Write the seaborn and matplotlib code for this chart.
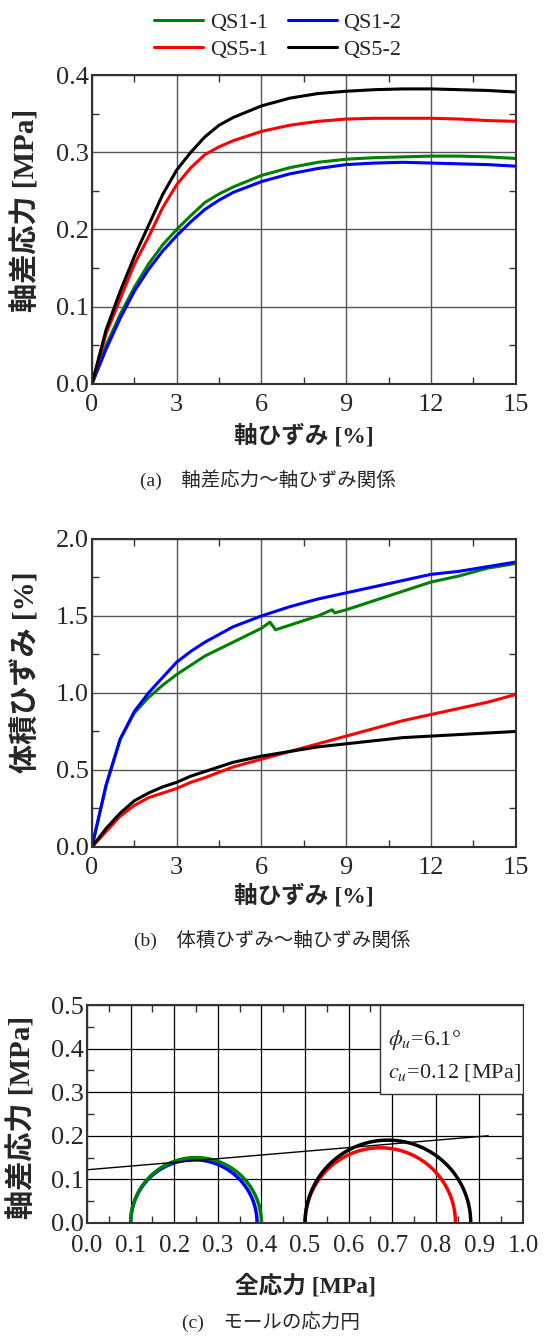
import numpy as np
import pandas as pd
import matplotlib
matplotlib.use('Agg')
import matplotlib.pyplot as plt
import seaborn as sns
from matplotlib.ticker import MultipleLocator, FormatStrFormatter

sns.set_theme(style='ticks')
plt.rcParams['font.family'] = ['Liberation Serif', 'Noto Sans CJK JP', 'DejaVu Sans']
plt.rcParams['mathtext.fontset'] = 'stix'

samples = ['QS1-1', 'QS1-2', 'QS5-1', 'QS5-2']
colors = {'QS1-1': '#008000', 'QS1-2': '#0000ff', 'QS5-1': '#ff0000', 'QS5-2': '#000000'}

# (a) deviator stress vs axial strain
strain_a = [0, 0.5, 1, 1.5, 2, 2.5, 3, 3.5, 4, 4.5, 5, 6, 7, 8, 9, 10, 11, 12, 13, 14, 15]
q_qs11 = [0, 0.05, 0.09, 0.125, 0.155, 0.18, 0.2, 0.218, 0.235, 0.246, 0.255, 0.27, 0.28, 0.287, 0.291, 0.293, 0.294, 0.295, 0.295, 0.294, 0.292]
q_qs12 = [0, 0.045, 0.085, 0.12, 0.148, 0.172, 0.192, 0.21, 0.226, 0.238, 0.248, 0.262, 0.272, 0.279, 0.284, 0.286, 0.287, 0.286, 0.285, 0.284, 0.282]
q_qs51 = [0, 0.065, 0.11, 0.155, 0.19, 0.228, 0.258, 0.28, 0.297, 0.307, 0.315, 0.327, 0.335, 0.34, 0.343, 0.344, 0.344, 0.344, 0.343, 0.341, 0.34]
q_qs52 = [0, 0.07, 0.12, 0.165, 0.205, 0.245, 0.277, 0.3, 0.32, 0.335, 0.345, 0.36, 0.37, 0.376, 0.379, 0.381, 0.382, 0.382, 0.381, 0.38, 0.378]

# (b) volumetric strain vs axial strain
strain_b1 = [0, 0.5, 1, 1.5, 2, 2.5, 3, 3.5, 4, 5, 6, 6.3, 6.5, 7, 8, 8.5, 8.6, 9, 10, 11, 12, 13, 14, 15]
ev_qs11 = [0, 0.4, 0.7, 0.87, 0.97, 1.05, 1.12, 1.18, 1.24, 1.33, 1.42, 1.46, 1.41, 1.44, 1.5, 1.54, 1.52, 1.54, 1.6, 1.66, 1.72, 1.76, 1.81, 1.84]
strain_b = [0, 0.5, 1, 1.5, 2, 2.5, 3, 3.5, 4, 5, 6, 7, 8, 9, 10, 11, 12, 13, 14, 15]
ev_qs12 = [0, 0.4, 0.7, 0.88, 1.0, 1.1, 1.2, 1.27, 1.33, 1.43, 1.5, 1.56, 1.61, 1.65, 1.69, 1.73, 1.77, 1.79, 1.82, 1.85]
ev_qs51 = [0, 0.1, 0.2, 0.27, 0.32, 0.35, 0.38, 0.42, 0.45, 0.52, 0.57, 0.62, 0.67, 0.72, 0.77, 0.82, 0.86, 0.9, 0.94, 0.99]
ev_qs52 = [0, 0.12, 0.22, 0.3, 0.35, 0.39, 0.42, 0.46, 0.49, 0.55, 0.59, 0.62, 0.65, 0.67, 0.69, 0.71, 0.72, 0.73, 0.74, 0.75]

# (c) Mohr circles: sigma3, sigma1
sigma3 = [0.1, 0.1, 0.5, 0.5]
sigma1 = [0.40, 0.39, 0.845, 0.88]
env_x = [0.0, 0.92]
env_y = [0.122, 0.20]

df_a = pd.concat([pd.DataFrame({'strain': strain_a, 'q': v, 'sample': s})
                  for s, v in zip(samples, [q_qs11, q_qs12, q_qs51, q_qs52])])
df_b = pd.concat([pd.DataFrame({'strain': x, 'ev': v, 'sample': s})
                  for s, x, v in zip(samples, [strain_b1, strain_b, strain_b, strain_b],
                                     [ev_qs11, ev_qs12, ev_qs51, ev_qs52])])

rows = []
th = np.linspace(0, np.pi, 200)
for s, s3, s1 in zip(samples, sigma3, sigma1):
    c, r = (s1 + s3) / 2, (s1 - s3) / 2
    rows.append(pd.DataFrame({'sigma': c + r * np.cos(th), 'tau': r * np.sin(th), 'sample': s}))
df_c = pd.concat(rows)

fig = plt.figure(figsize=(5.44, 13.37), dpi=100)
ax1 = fig.add_axes([0.169, 0.7128, 0.779, 0.2311])
ax2 = fig.add_axes([0.169, 0.3665, 0.779, 0.2304])
ax3 = fig.add_axes([0.160, 0.0853, 0.8015, 0.163])

tick_fs = 19
xlab_kw = dict(fontsize=17, fontweight='bold')
ylab_kw = dict(fontsize=21, fontweight='bold')

sns.lineplot(data=df_a, x='strain', y='q', hue='sample', palette=colors, ax=ax1,
             lw=2.2, sort=False, estimator=None, legend=True)
sns.lineplot(data=df_b, x='strain', y='ev', hue='sample', palette=colors, ax=ax2,
             lw=2.2, sort=False, estimator=None, legend=False)
# blue circle under the green one, as in the original
sns.lineplot(data=df_c, x='sigma', y='tau', hue='sample', palette=colors, ax=ax3,
             hue_order=['QS1-2', 'QS1-1', 'QS5-1', 'QS5-2'],
             lw=2.5, sort=False, estimator=None, legend=False)
ax3.plot(env_x, env_y, color='black', lw=1.0)

handles, labels = ax1.get_legend_handles_labels()
ax1.get_legend().remove()
hmap = dict(zip(labels, handles))
order = ['QS1-1', 'QS5-1', 'QS1-2', 'QS5-2']
fig.legend([hmap[k] for k in order], order, loc='upper center', bbox_to_anchor=(0.511, 1.006),
           ncol=2, frameon=False, fontsize=16, handlelength=2.2, columnspacing=0.9,
           handletextpad=0.3, labelspacing=0.3)

for ax in (ax1, ax2):
    ax.set_xlim(0, 15)
    ax.xaxis.set_major_locator(MultipleLocator(3))
    ax.xaxis.set_minor_locator(MultipleLocator(1.5))
    ax.grid(True, which='major', color='#555555', lw=1.0)
ax1.set_ylim(0, 0.4)
ax1.yaxis.set_major_locator(MultipleLocator(0.1))
ax1.yaxis.set_minor_locator(MultipleLocator(0.05))
ax1.yaxis.set_major_formatter(FormatStrFormatter('%.1f'))
ax2.set_ylim(0, 2.0)
ax2.yaxis.set_major_locator(MultipleLocator(0.5))
ax2.yaxis.set_minor_locator(MultipleLocator(0.25))
ax2.yaxis.set_major_formatter(FormatStrFormatter('%.1f'))

ax3.set_xlim(0, 1.0)
ax3.set_ylim(0, 0.5)
ax3.xaxis.set_major_locator(MultipleLocator(0.1))
ax3.xaxis.set_minor_locator(MultipleLocator(0.05))
ax3.yaxis.set_major_locator(MultipleLocator(0.1))
ax3.yaxis.set_minor_locator(MultipleLocator(0.05))
ax3.xaxis.set_major_formatter(FormatStrFormatter('%.1f'))
ax3.yaxis.set_major_formatter(FormatStrFormatter('%.1f'))
ax3.grid(True, which='major', color='black', lw=0.9)

for ax in (ax1, ax2, ax3):
    ax.tick_params(which='both', direction='in', top=True, right=True, labelsize=tick_fs,
                   color='#333333', pad=2)
    ax.tick_params(which='major', length=0)
    ax.tick_params(which='minor', length=5, width=1)
    ax.tick_params(axis='x', which='both', pad=7)
    for sp in ax.spines.values():
        sp.set_color('#333333')
        sp.set_linewidth(1.5)
    ax.set_axisbelow(True)
ax3.tick_params(axis='x', labelsize=18, pad=9)

ax1.set_xlabel('軸ひずみ [%]', labelpad=6, **xlab_kw)
ax1.set_ylabel('軸差応力 [MPa]', **ylab_kw)
ax2.set_xlabel('軸ひずみ [%]', labelpad=4, **xlab_kw)
ax2.set_ylabel('体積ひずみ [%]', **ylab_kw)
ax3.set_xlabel('全応力 [MPa]', labelpad=12, **xlab_kw)
ax3.set_ylabel('軸差応力 [MPa]', **ylab_kw)
ax1.yaxis.set_label_coords(-0.122, 0.563)
ax2.yaxis.set_label_coords(-0.122, 0.568)
ax3.yaxis.set_label_coords(-0.115, 0.486)

cap_fs = 14
fig.text(268 / 544, 1 - 480 / 1337, '(a)　軸差応力～軸ひずみ関係', ha='center', va='center', fontsize=cap_fs)
fig.text(272 / 544, 1 - 940 / 1337, '(b)　体積ひずみ～軸ひずみ関係', ha='center', va='center', fontsize=cap_fs)
fig.text(271 / 544, 1 - 1322 / 1337, '(c)　モールの応力円', ha='center', va='center', fontsize=cap_fs)

# parameter box in (c)
ax3.add_patch(plt.Rectangle((0.672, 0.296), 0.328, 0.204, facecolor='white',
                            edgecolor='#333333', lw=1.0, zorder=3))
ax3.text(0.69, 0.42, r'$\phi_u$=6.1°', fontsize=16, va='center', zorder=4)
ax3.text(0.69, 0.345, r'$c_u$=0.12 [MPa]', fontsize=16, va='center', zorder=4)

fig.savefig('out.png', dpi=100)
